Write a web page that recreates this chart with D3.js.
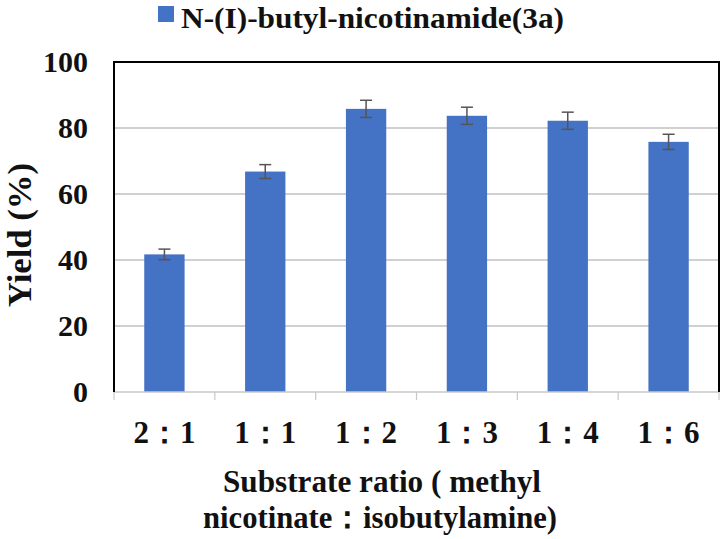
<!DOCTYPE html>
<html>
<head>
<meta charset="utf-8">
<script src="https://cdn.jsdelivr.net/npm/d3@7"></script>
<style>
  body { margin: 0; background: #fff; }
  text { font-family: "Liberation Serif", "Times New Roman", serif; font-weight: bold; fill: #111; }
</style>
</head>
<body>
<svg id="chart" width="722" height="539"></svg>
<script>
// data
var ratios = ["2\uFF1A1", "1\uFF1A1", "1\uFF1A2", "1\uFF1A3", "1\uFF1A4", "1\uFF1A6"];
var yields = [41.7, 66.8, 85.8, 83.7, 82.2, 75.8];
var errs = [1.6, 2.1, 2.6, 2.6, 2.6, 2.3];
var yTicks = [0, 20, 40, 60, 80, 100];
var seriesName = "N-(I)-butyl-nicotinamide(3a)";

var svg = d3.select("#chart");
var margin = {top: 62, right: 3, bottom: 147, left: 114};
var W = 722, H = 539;

var x = d3.scaleBand()
    .domain(ratios)
    .range([margin.left, W - margin.right])
    .paddingInner(0.6)
    .paddingOuter(0.3);

var y = d3.scaleLinear()
    .domain([0, 100])
    .range([H - margin.bottom, margin.top]);

// gridlines
svg.append("g")
    .selectAll("line")
    .data(yTicks.filter(function(d) { return d > 0 && d < 100; }))
    .enter().append("line")
    .attr("x1", margin.left).attr("x2", W - margin.right)
    .attr("y1", function(d) { return y(d); })
    .attr("y2", function(d) { return y(d); })
    .attr("stroke", "#c0c0c0")
    .attr("stroke-width", 1.3);

// bars
svg.append("g")
    .selectAll("rect")
    .data(ratios)
    .enter().append("rect")
    .attr("x", function(d) { return x(d); })
    .attr("width", x.bandwidth())
    .attr("y", function(d, i) { return y(yields[i]); })
    .attr("height", function(d, i) { return y(0) - y(yields[i]); })
    .attr("fill", "#4472c4");

// error bars
var eb = svg.append("g").attr("stroke", "#555").attr("stroke-width", 1.5);
ratios.forEach(function(d, i) {
    var cx = x(d) + x.bandwidth() / 2;
    var hi = y(yields[i] + errs[i]), lo = y(yields[i] - errs[i]);
    eb.append("line").attr("x1", cx).attr("x2", cx).attr("y1", hi).attr("y2", lo);
    eb.append("line").attr("x1", cx - 6).attr("x2", cx + 6).attr("y1", hi).attr("y2", hi);
    eb.append("line").attr("x1", cx - 6).attr("x2", cx + 6).attr("y1", lo).attr("y2", lo);
});

// x axis (light gray with ticks between categories)
var xAxis = svg.append("g")
    .attr("transform", "translate(0," + y(0) + ")");
xAxis.append("line")
    .attr("x1", margin.left).attr("x2", W - margin.right)
    .attr("stroke", "#c8c8c8").attr("stroke-width", 1.5);
var step = x.step();
var bounds = ratios.map(function(d) { return x(d) - step * x.paddingInner() / 2; });
bounds.push(W - margin.right);
xAxis.selectAll("line.tick")
    .data(bounds)
    .enter().append("line")
    .attr("class", "tick")
    .attr("x1", function(d) { return d; }).attr("x2", function(d) { return d; })
    .attr("y1", 0).attr("y2", 8)
    .attr("stroke", "#c8c8c8").attr("stroke-width", 1.2);

xAxis.selectAll("text")
    .data(ratios)
    .enter().append("text")
    .attr("x", function(d) { return x(d) + x.bandwidth() / 2; })
    .attr("y", 51)
    .attr("text-anchor", "middle")
    .style("font-size", "31px")
    .text(function(d) { return d; });

// y axis labels
var yAxis = d3.axisLeft(y).tickValues(yTicks).tickSize(0).tickPadding(26);
var yg = svg.append("g")
    .attr("transform", "translate(" + margin.left + ",0)")
    .call(yAxis);
yg.select(".domain").remove();
yg.selectAll("text")
    .style("font-size", "30px")
    .style("font-family", "Liberation Serif, serif")
    .attr("fill", "#111");

// frame: left, top, right in black
svg.append("path")
    .attr("d", "M" + margin.left + "," + y(0) + "V" + y(100) + "H" + (W - margin.right) + "V" + y(0))
    .attr("fill", "none")
    .attr("stroke", "#000")
    .attr("stroke-width", 2);

// y title
svg.append("text")
    .attr("transform", "translate(31,235) rotate(-90)")
    .attr("text-anchor", "middle")
    .attr("textLength", 144)
    .attr("lengthAdjust", "spacingAndGlyphs")
    .style("font-size", "33px")
    .text("Yield (%)");

// x title
svg.append("text")
    .attr("x", 382).attr("y", 492)
    .attr("text-anchor", "middle")
    .attr("textLength", 318)
    .attr("lengthAdjust", "spacingAndGlyphs")
    .style("font-size", "32px")
    .text("Substrate ratio ( methyl");
svg.append("text")
    .attr("x", 380).attr("y", 528)
    .attr("text-anchor", "middle")
    .attr("textLength", 354)
    .attr("lengthAdjust", "spacingAndGlyphs")
    .style("font-size", "32px")
    .text("nicotinate\uFF1Aisobutylamine)");

// legend
svg.append("rect")
    .attr("x", 158).attr("y", 6).attr("width", 16).attr("height", 16)
    .attr("fill", "#4472c4");
svg.append("text")
    .attr("x", 181).attr("y", 28)
    .attr("textLength", 383)
    .attr("lengthAdjust", "spacingAndGlyphs")
    .style("font-size", "29px")
    .text(seriesName);
</script>
</body>
</html>
